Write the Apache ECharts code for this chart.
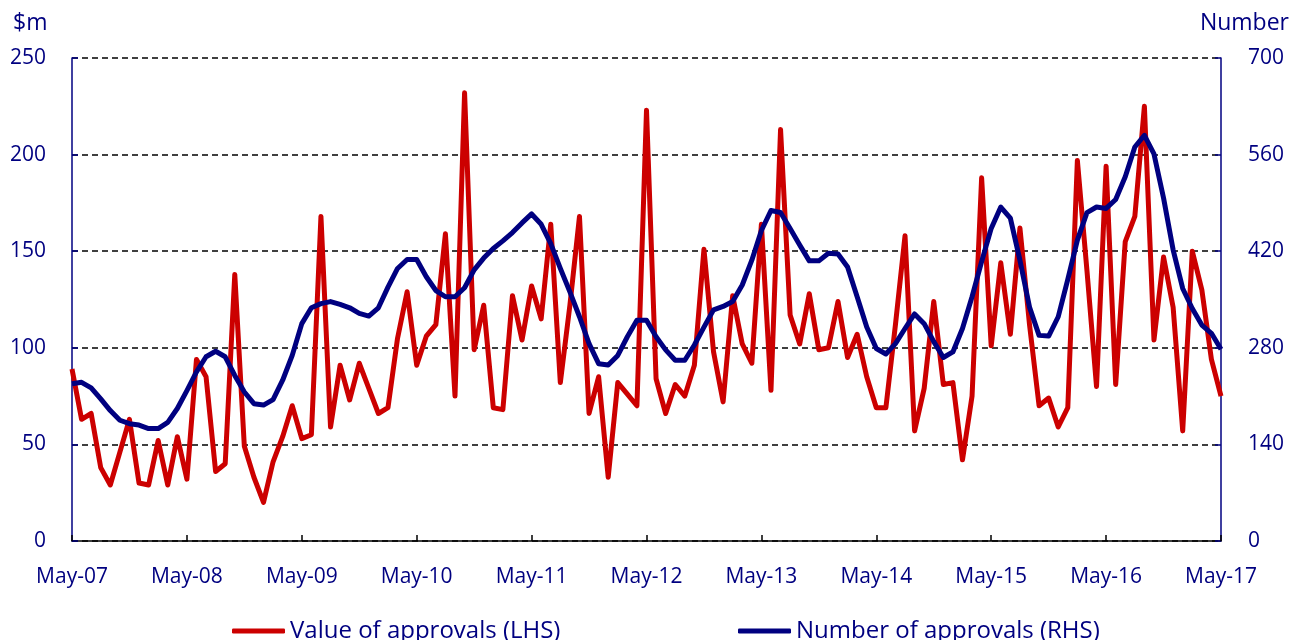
<!DOCTYPE html>
<html>
<head>
<meta charset="utf-8">
<script src="https://cdn.jsdelivr.net/npm/echarts@6/dist/echarts.min.js"></script>
<style>
  html, body { margin: 0; padding: 0; background: #fff; }
  #chart { width: 1295px; height: 640px; }
</style>
</head>
<body>
<div id="chart"></div>
<script>
// Monthly building approvals, May 2007 – May 2017
const startYear = 2007;
const startMonth = 4; // May (0-based)
const monthNames = ['Jan','Feb','Mar','Apr','May','Jun','Jul','Aug','Sep','Oct','Nov','Dec'];

// Value of approvals, $m (left axis)
const valueApprovals = [
  89, 63, 66, 38, 29, 46, 63, 30, 29, 52, 29, 54,
  32, 94, 85, 36, 40, 138, 49, 33, 20, 41, 54, 70,
  53, 55, 168, 59, 91, 73, 92, 79, 66, 69, 105, 129,
  91, 106, 112, 159, 75, 232, 99, 122, 69, 68, 127, 104,
  132, 115, 164, 82, 122, 168, 66, 85, 33, 82, 76, 70,
  223, 84, 66, 81, 75, 91, 151, 98, 72, 127, 102, 92,
  164, 78, 213, 117, 102, 128, 99, 100, 124, 95, 107, 85,
  69, 69, 112, 158, 57, 79, 124, 81, 82, 42, 75, 188,
  101, 144, 107, 162, 112, 70, 74, 59, 69, 197, 140, 80,
  194, 81, 155, 168, 225, 104, 147, 121, 57, 150, 130, 94,
  75
];

// Number of approvals (right axis)
const numberApprovals = [
  228, 230, 222, 206, 189, 175, 170, 168, 163, 163, 172, 192,
  218, 245, 267, 275, 267, 240, 216, 199, 197, 205, 233, 269,
  315, 338, 344, 347, 343, 338, 330, 326, 338, 368, 395, 408,
  408, 383, 363, 354, 354, 367, 393, 410, 424, 435, 447, 461,
  474, 459, 431, 395, 361, 325, 286, 257, 255, 269, 296, 320,
  320, 296, 277, 262, 262, 284, 310, 335, 340, 347, 371, 407,
  450, 479, 476, 453, 429, 406, 406, 417, 416, 397, 354, 310,
  279, 271, 286, 308, 329, 315, 289, 266, 274, 308, 354, 405,
  453, 484, 468, 407, 339, 298, 297, 325, 379, 436, 476, 484,
  482, 495, 528, 571, 588, 561, 497, 422, 366, 337, 313, 301,
  278
];

const leftTicks = { min: 0, max: 250, interval: 50 };
const rightTicks = { min: 0, max: 700, interval: 140 };

// Month labels such as "May-07"
const months = valueApprovals.map(function (_, i) {
  const m = (startMonth + i) % 12;
  const y = startYear + Math.floor((startMonth + i) / 12);
  return monthNames[m] + '-' + String(y % 100).padStart(2, '0');
});

const NAVY = '#000080';
const RED = '#CC0000';
const FONT = "'Open Sans', 'Noto Sans', sans-serif";

const chart = echarts.init(document.getElementById('chart'), null, { renderer: 'canvas' });

chart.setOption({
  animation: false,
  backgroundColor: '#fff',
  textStyle: { fontFamily: FONT },
  grid: { left: 72, right: 74, top: 58, bottom: 99, containLabel: false },
  legend: [
    {
      data: ['Value of approvals (LHS)'],
      left: 227, top: 614,
      icon: 'roundRect', itemWidth: 53, itemHeight: 5,
      textStyle: { color: NAVY, fontSize: 24, fontFamily: FONT }
    },
    {
      data: ['Number of approvals (RHS)'],
      left: 733, top: 614,
      icon: 'roundRect', itemWidth: 53, itemHeight: 5,
      textStyle: { color: NAVY, fontSize: 24, fontFamily: FONT }
    }
  ],
  graphic: [
    { type: 'text', left: 13, top: 12,
      style: { text: '$m', fill: NAVY, font: "23px 'Open Sans', sans-serif" } },
    { type: 'text', right: 6, top: 12,
      style: { text: 'Number', fill: NAVY, font: "23px 'Open Sans', sans-serif" } }
  ],
  xAxis: {
    type: 'category',
    data: months,
    boundaryGap: false,
    axisLine: { lineStyle: { color: '#000', width: 1.5 } },
    axisTick: { inside: true, length: 6, interval: 11, lineStyle: { color: '#000', width: 1.5 } },
    axisLabel: { interval: 11, color: NAVY, fontSize: 21, margin: 26, fontFamily: FONT },
    splitLine: { show: false }
  },
  yAxis: [
    {
      type: 'value',
      min: leftTicks.min, max: leftTicks.max, interval: leftTicks.interval,
      position: 'left',
      axisLine: { show: true, lineStyle: { color: NAVY, width: 1.5 } },
      axisTick: { show: true, inside: true, length: 6, lineStyle: { color: NAVY, width: 1.5 } },
      axisLabel: { color: NAVY, fontSize: 21, margin: 26, fontFamily: FONT },
      splitLine: { show: true, lineStyle: { color: '#000', width: 1.5, type: [6, 4] } }
    },
    {
      type: 'value',
      min: rightTicks.min, max: rightTicks.max, interval: rightTicks.interval,
      position: 'right',
      axisLine: { show: true, lineStyle: { color: NAVY, width: 1.5 } },
      axisTick: { show: true, inside: true, length: 6, lineStyle: { color: NAVY, width: 1.5 } },
      axisLabel: { color: NAVY, fontSize: 21, margin: 27, fontFamily: FONT },
      splitLine: { show: false }
    }
  ],
  series: [
    {
      name: 'Value of approvals (LHS)',
      type: 'line',
      yAxisIndex: 0,
      data: valueApprovals,
      showSymbol: false,
      symbol: 'none',
      lineStyle: { color: RED, width: 5, join: 'round' },
      itemStyle: { color: RED }
    },
    {
      name: 'Number of approvals (RHS)',
      type: 'line',
      yAxisIndex: 1,
      data: numberApprovals,
      showSymbol: false,
      symbol: 'none',
      lineStyle: { color: NAVY, width: 5, join: 'round' },
      itemStyle: { color: NAVY }
    }
  ]
});
</script>
</body>
</html>
